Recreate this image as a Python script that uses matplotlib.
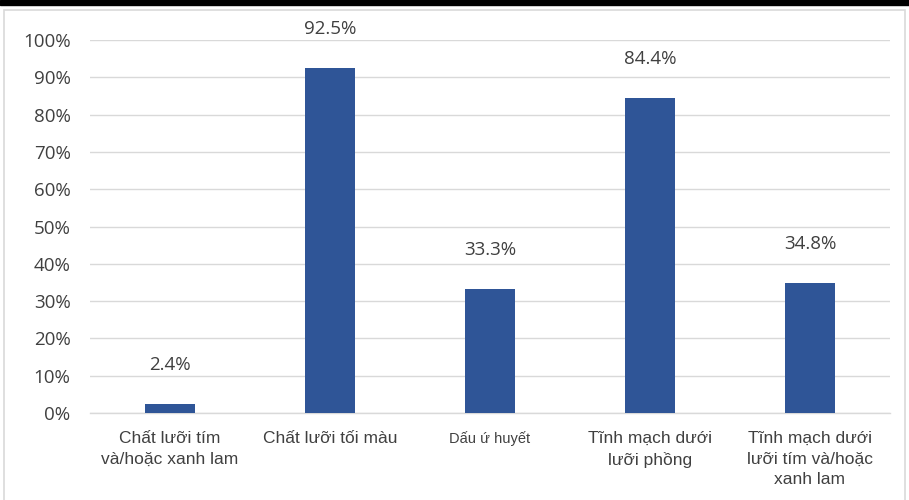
import matplotlib.pyplot as plt
from matplotlib.patches import Rectangle
from matplotlib.ticker import FuncFormatter

categories = [
    "Chất lưỡi tím\nvà/hoặc xanh lam",
    "Chất lưỡi tối màu",
    "Dấu ứ huyết",
    "Tĩnh mạch dưới\nlưỡi phồng",
    "Tĩnh mạch dưới\nlưỡi tím và/hoặc\nxanh lam",
]
values = [2.4, 92.5, 33.3, 84.4, 34.8]
label_sizes = [12.5, 12.5, 10.5, 12.5, 12.5]

grey = '#404040'
fig = plt.figure(figsize=(9.09, 5), dpi=100)

# black strip at top and light frame
fig.patches.append(Rectangle((0, 0.99), 1, 0.01, transform=fig.transFigure,
                             color='black', zorder=-1))
fig.patches.append(Rectangle((0.004, -0.01), 0.992, 0.99, transform=fig.transFigure,
                             facecolor='none', edgecolor='#d9d9d9', lw=1.2, zorder=-1))

ax = fig.add_axes([0.099, 0.174, 0.880, 0.746])
ax.patch.set_alpha(0)
x = range(len(values))
ax.bar(x, values, width=0.31, color='#2F5597', zorder=3)
for xi, v in zip(x, values):
    ax.annotate(f"{v}%", (xi, v), xytext=(0, 28), textcoords='offset points',
                ha='center', va='center', fontsize=13.5, color=grey,
                family='Open Sans', annotation_clip=False)

ax.set_xlim(-0.5, len(values) - 0.5)
ax.set_ylim(0, 100)
ax.set_yticks(range(0, 101, 10))
ax.yaxis.set_major_formatter(FuncFormatter(lambda v, p: f"{int(v)}%"))
ax.grid(axis='y', color='#d9d9d9', lw=1, zorder=0)
for s in ['top', 'right', 'left']:
    ax.spines[s].set_visible(False)
ax.spines['bottom'].set_color('#d9d9d9')
ax.spines['bottom'].set_linewidth(1)
ax.tick_params(axis='both', length=0, colors=grey)
ax.tick_params(axis='y', pad=14)
for t in ax.get_yticklabels():
    t.set_fontsize(13.5)
    t.set_family('Open Sans')

ax.set_xticks(list(x))
ax.set_xticklabels(categories, linespacing=1.45)
for t, fs in zip(ax.get_xticklabels(), label_sizes):
    t.set_fontsize(fs)
    t.set_family('Liberation Sans')
    t.set_color(grey)
    t.set_va('top')
ax.tick_params(axis='x', pad=13)

fig.savefig('out.png', dpi=100)
